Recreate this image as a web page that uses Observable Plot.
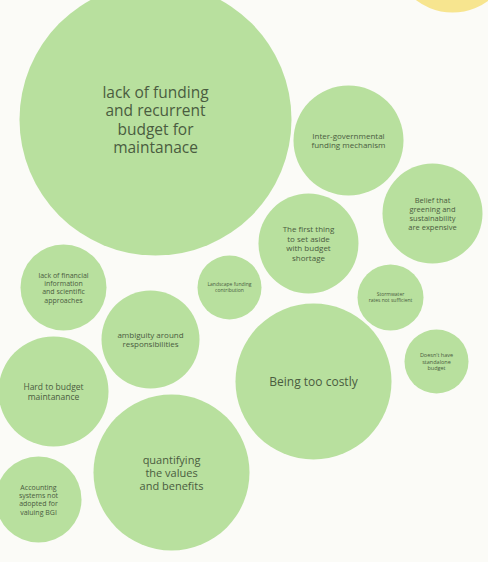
<!DOCTYPE html>
<html>
<head>
<meta charset="utf-8">
<script src="https://cdn.jsdelivr.net/npm/d3@7"></script>
<script src="https://cdn.jsdelivr.net/npm/@observablehq/plot@0.6"></script>
<style>
  html, body { margin: 0; padding: 0; background: #fbfbf7; }
  #chart { width: 488px; height: 562px; overflow: hidden; }
</style>
</head>
<body>
<div id="chart"></div>
<script>
// Barriers (bubble labels)
const labels = [
  "lack of funding\nand recurrent\nbudget for\nmaintanace",
  "Inter-governmental\nfunding mechanism",
  "Belief that\ngreening and\nsustainability\nare expensive",
  "The first thing\nto set aside\nwith budget\nshortage",
  "lack of financial\ninformation\nand scientific\napproaches",
  "Landscape funding\ncontribution",
  "Stormwater\nrates not sufficient",
  "ambiguity around\nresponsibilities",
  "Being too costly",
  "Doesn't have\nstandalone\nbudget",
  "Hard to budget\nmaintanance",
  "quantifying\nthe values\nand benefits",
  "Accounting\nsystems not\nadopted for\nvaluing BGI",
  ""
];
// bubble centres and radii (layout values of the packed bubbles)
const cx = [155, 348, 432, 308, 63, 229, 390, 150, 313, 436, 53, 171, 38, 452];
const cy = [119, 140, 213, 243, 287, 287, 297, 339, 381, 361, 391, 472, 499, -48];
const radius = [136, 55, 50, 50, 43, 32, 33, 49, 78, 32, 55, 78, 43, 60];
const group = ["g","g","g","g","g","g","g","g","g","g","g","g","g","y"];
const fontSizes = [15.5, 8, 7.5, 8, 7, 5, 5, 8, 12, 5.5, 8.5, 11, 7, 0];

const data = labels.map((label, i) => ({
  label, x: cx[i], y: cy[i], r: radius[i], group: group[i], fs: fontSizes[i]
}));

const textMarks = data.filter(d => d.label).map(d =>
  Plot.text([d], {
    x: "x", y: "y", text: "label",
    fontSize: d.fs,
    lineHeight: 1.2,
    lineAnchor: "middle",
    textAnchor: "middle",
    fill: "#4a5c40",
    fontFamily: "'Open Sans', sans-serif"
  })
);

const chart = Plot.plot({
  width: 488,
  height: 562,
  margin: 0,
  style: { background: "#fbfbf7", overflow: "hidden" },
  x: { domain: [0, 488], range: [0, 488], axis: null },
  y: { domain: [0, 562], range: [0, 562], axis: null },
  r: { type: "linear", domain: [0, 100], range: [0, 100] },
  color: { domain: ["g", "y"], range: ["#b8e09e", "#f7e58f"] },
  marks: [
    Plot.dot(data, { x: "x", y: "y", r: "r", fill: "group", stroke: "none" }),
    ...textMarks
  ]
});
document.getElementById("chart").appendChild(chart);
</script>
</body>
</html>
